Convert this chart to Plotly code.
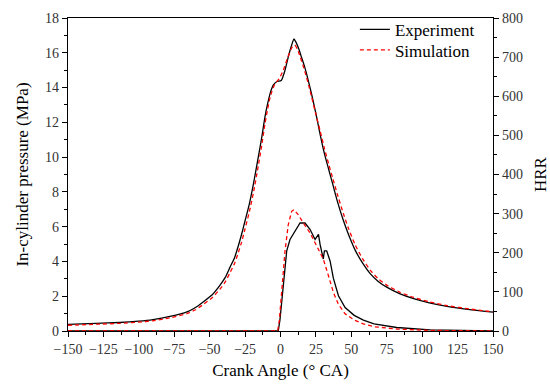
import plotly.graph_objects as go

# ---- Data ----
p_exp_angle = [-150, -130, -113.5, -100, -90, -78, -66, -60, -54.6, -48, -42.8, -39, -35.7, -32.5,
               -29.8, -27.5, -25.1, -22, -19, -16, -13.3, -11, -9, -7, -5, -2.5, 0.5, 3.2, 5.6, 7.9,
               9.5, 11, 13, 15, 17, 19, 22, 25, 28, 31, 34, 37, 40, 44.4, 48, 52.7, 58, 63.3, 69, 75,
               84, 94, 105, 117.5, 135, 150]
p_exp = [0.38, 0.44, 0.49, 0.57, 0.66, 0.84, 1.1, 1.35, 1.67, 2.1, 2.62, 3.08, 3.66, 4.2,
         4.89, 5.55, 6.31, 7.3, 8.5, 9.85, 11.1, 12.3, 13.1, 13.75, 14.15, 14.35, 14.4, 15.0, 15.8, 16.45,
         16.8, 16.6, 16.2, 15.7, 15.2, 14.6, 13.6, 12.5, 11.3, 10.2, 9.3, 8.4, 7.5, 6.35, 5.55, 4.65, 3.9,
         3.3, 2.85, 2.52, 2.15, 1.86, 1.62, 1.42, 1.22, 1.08]

p_sim_angle = [-150, -130, -113.5, -100, -90, -78, -66, -60, -54.6, -48, -42.8, -39, -35.7, -32.5,
               -29.8, -27.5, -25.1, -22, -19, -16, -13.3, -11, -9, -7, -4, -1, 2, 5, 8, 10, 12, 14,
               16, 18, 20, 22, 25, 28, 31, 34, 37, 40, 44.4, 48, 52.7, 58, 63.3, 69, 75, 84, 94, 105,
               117.5, 135, 150]
p_sim = [0.33, 0.39, 0.44, 0.51, 0.59, 0.76, 1.0, 1.22, 1.52, 1.93, 2.4, 2.82, 3.35, 3.87,
         4.5, 5.1, 5.85, 6.85, 8.0, 9.35, 10.65, 11.9, 12.8, 13.55, 14.2, 14.5, 15.0, 15.7, 16.3, 16.45,
         16.2, 15.75, 15.25, 14.7, 14.1, 13.45, 12.45, 11.5, 10.5, 9.6, 8.75, 7.9, 6.75, 5.9, 4.95, 4.15,
         3.5, 3.0, 2.64, 2.24, 1.93, 1.68, 1.46, 1.25, 1.1]

hrr_exp_angle = [-150, -1.6, -0.4, 1.5, 4.4, 6.7, 10.2, 13.8, 17.3, 20.8, 24.4, 26.8, 27.9, 30.2,
                 31, 32.6, 35, 37.3, 40.9, 45.6, 52, 58.5, 66, 82, 105.7, 150]
hrr_exp = [0, 0, 28, 104, 205, 234, 255, 276, 276, 260, 234, 247, 222, 184,
           205, 205, 179, 135, 90, 60, 40, 28, 18, 9, 3, 0]

hrr_sim_angle = [-150, -2, -0.8, 0.9, 3.2, 5.5, 7.9, 9.5, 12.6, 16.1, 20.8, 25.6, 30.2, 33.8,
                 37.3, 40.9, 45.6, 52, 58.5, 66, 82, 105.7, 150]
hrr_sim = [0, 0, 28, 104, 205, 272, 306, 310, 297, 276, 251, 217, 184, 142,
           99, 68, 44, 28, 18, 11, 5, 1.5, 0]

x_ticks = [-150, -125, -100, -75, -50, -25, 0, 25, 50, 75, 100, 125, 150]
y1_ticks = [0, 2, 4, 6, 8, 10, 12, 14, 16, 18]
y2_ticks = [0, 100, 200, 300, 400, 500, 600, 700, 800]

FONT = "Liberation Serif, Times New Roman, serif"
BLACK = "#000000"
RED = "#ff0000"
DASH = "4px,3px"

fig = go.Figure()
fig.add_trace(go.Scatter(x=p_exp_angle, y=p_exp, mode="lines", name="Experiment",
                         line=dict(color=BLACK, width=1.3, shape="spline", smoothing=0.5),
                         legendgroup="exp", legend="legend"))
fig.add_trace(go.Scatter(x=p_sim_angle, y=p_sim, mode="lines", name="Simulation",
                         line=dict(color=RED, width=1.3, dash=DASH, shape="spline", smoothing=0.5),
                         legendgroup="sim", legend="legend2"))
fig.add_trace(go.Scatter(x=hrr_exp_angle, y=hrr_exp, mode="lines", name="Experiment",
                         line=dict(color=BLACK, width=1.3), yaxis="y2",
                         legendgroup="exp", showlegend=False))
fig.add_trace(go.Scatter(x=hrr_sim_angle, y=hrr_sim, mode="lines", name="Simulation",
                         line=dict(color=RED, width=1.3, dash=DASH), yaxis="y2",
                         legendgroup="sim", showlegend=False))

tickfont = dict(family=FONT, size=14, color="#333333")
titlefont = dict(family=FONT, size=17, color=BLACK)
legfont = dict(family=FONT, size=17, color=BLACK)

fig.update_layout(
    width=550, height=387,
    margin=dict(l=68, r=57, t=15, b=56),
    paper_bgcolor="white", plot_bgcolor="white",
    showlegend=True,
    legend=dict(x=0.675, y=1.02, xanchor="left", yanchor="top", font=legfont,
                bgcolor="rgba(0,0,0,0)"),
    legend2=dict(x=0.675, y=0.954, xanchor="left", yanchor="top", font=legfont,
                 bgcolor="rgba(0,0,0,0)"),
    xaxis=dict(range=[-150, 150], tickmode="array", tickvals=x_ticks,
               ticktext=[("\u2212" + str(-v)) if v < 0 else str(v) for v in x_ticks],
               ticks="outside", ticklen=5, tickwidth=1.3, tickcolor=BLACK,
               minor=dict(ticks="outside", ticklen=3, tickwidth=1.1, tickcolor=BLACK, dtick=12.5),
               showline=True, linecolor=BLACK, linewidth=1.3, mirror=True, automargin=False,
               showgrid=False, zeroline=False, tickfont=tickfont,
               title=dict(text="Crank Angle (° CA)", font=titlefont, standoff=8)),
    yaxis=dict(range=[0, 18], tickmode="array", tickvals=y1_ticks,
               ticks="outside", ticklen=5, tickwidth=1.3, tickcolor=BLACK,
               minor=dict(ticks="outside", ticklen=3, tickwidth=1.1, tickcolor=BLACK, dtick=1),
               showline=True, linecolor=BLACK, linewidth=1.3, automargin=False,
               showgrid=False, zeroline=False, tickfont=tickfont,
               title=dict(text="In-cylinder pressure (MPa)", font=titlefont, standoff=12)),
    yaxis2=dict(range=[0, 800], tickmode="array", tickvals=y2_ticks, overlaying="y", side="right",
                ticks="outside", ticklen=5, tickwidth=1.3, tickcolor=BLACK,
                minor=dict(ticks="outside", ticklen=3, tickwidth=1.1, tickcolor=BLACK, dtick=50),
                showline=True, linecolor=BLACK, linewidth=1.3, automargin=False,
                showgrid=False, zeroline=False, tickfont=tickfont,
                title=dict(text="HRR", font=titlefont, standoff=12)),
)

fig.write_html("out.html", config={"displayModeBar": False},
               post_script="document.body.style.margin='0';document.body.style.padding='0';")
